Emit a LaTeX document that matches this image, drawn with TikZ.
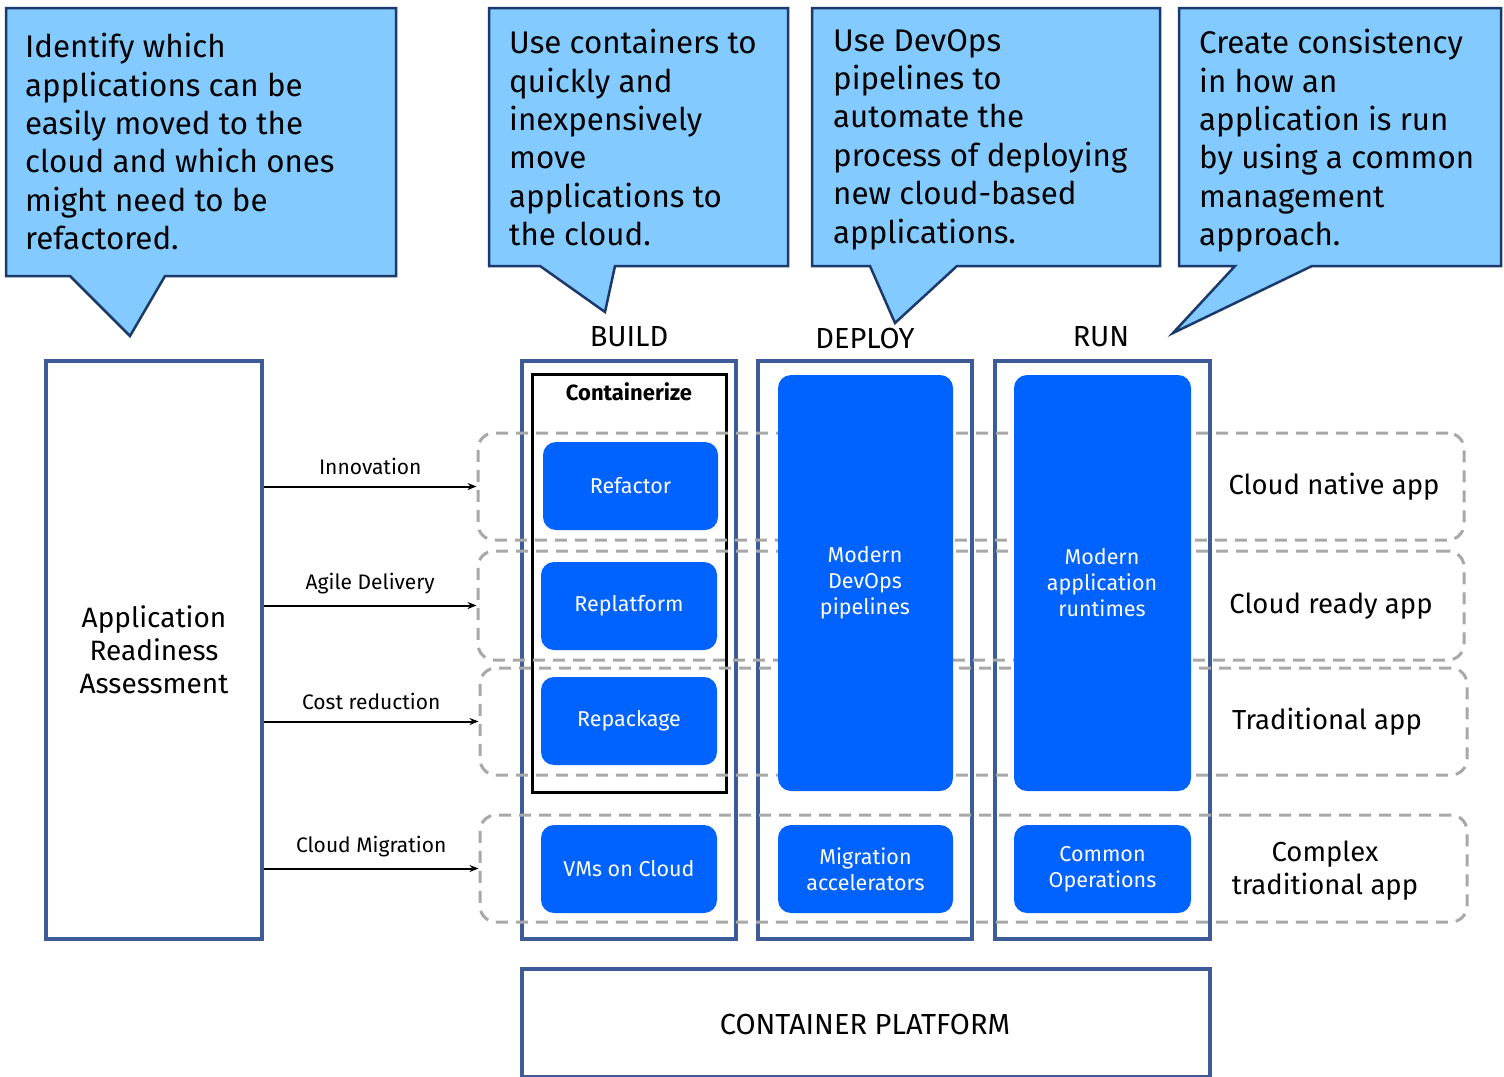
\documentclass[tikz,border=0pt]{standalone}
\usepackage{fontspec}
\setmainfont{Fira Sans}
\usetikzlibrary{arrows.meta,fit}

\definecolor{callfill}{HTML}{82CAFF}
\definecolor{calledge}{HTML}{1B3A6B}
\definecolor{frameblue}{HTML}{3D5C97}
\definecolor{ibmblue}{HTML}{0062FF}
\definecolor{dashgray}{HTML}{A8A8A8}

\begin{document}
\begin{tikzpicture}[x=1pt,y=-1pt,
  callout/.style={draw=calledge, line width=2.5pt, fill=callfill, line join=miter},
  calltext/.style={font=\fontsize{31.3}{38.4}\selectfont, align=left, anchor=north west, inner sep=0pt, text=black},
  frame/.style={draw=frameblue, line width=4pt, inner sep=0pt},
  bluebox/.style={fill=ibmblue, rounded corners=13pt, inner sep=0pt},
  boxtext/.style={text=white, font=\fontsize{21.5}{26}\selectfont, align=center, inner sep=0pt},
  rowbox/.style={draw=dashgray, line width=3pt, dash pattern=on 12pt off 8pt, rounded corners=16pt, inner sep=0pt},
  arr/.style={draw=black, line width=2pt, -{Stealth[length=9pt,width=7pt]}},
  lbl/.style={font=\fontsize{21}{24}\selectfont, inner sep=0pt, above=11pt},
  head/.style={font=\fontsize{29}{32}\selectfont, inner sep=0pt},
  rowlbl/.style={font=\fontsize{27.5}{33}\selectfont, align=center, inner sep=0pt}
]
\useasboundingbox (0,0) rectangle (1504,1076);

% speech bubbles
\draw[callout] (6,8) -- (396,8) -- (396,276) -- (165,276) -- (130,336) -- (70,276) -- (6,276) -- cycle;
\draw[callout] (489,8) -- (788,8) -- (788,266) -- (615,266) -- (605,312) -- (540,266) -- (489,266) -- cycle;
\draw[callout] (812,8) -- (1160,8) -- (1160,266) -- (957,266) -- (895,323) -- (870,266) -- (812,266) -- cycle;
\draw[callout] (1179,8) -- (1501,8) -- (1501,266) -- (1312,266) -- (1173,333) -- (1235,266) -- (1179,266) -- cycle;

\node[calltext] (t1) at (25,33) {Identify which\\applications can be\\easily moved to the\\cloud and which ones\\might need to be\\refactored.};
\node[calltext] (t2) at (509,29) {Use containers to\\quickly and\\inexpensively\\move\\applications to\\the cloud.};
\node[calltext] (t3) at (833,29) {Use DevOps\\pipelines to\\automate the\\process of deploying\\new cloud-based\\applications.};
\node[calltext] (t4) at (1199,29) {Create consistency\\in how an\\application is run\\by using a common\\management\\approach.};

% column headings
\node[head] (hbuild) at (629,337) {BUILD};
\node[head] (hdeploy) at (865,339) {DEPLOY};
\node[head] (hrun) at (1101,337) {RUN};

% assessment box
\node[frame, fit={(46,361) (262,939)}] (ara) {};
\node[font=\fontsize{28}{33}\selectfont, align=center, inner sep=0pt] (aratext) at (154,650) {Application\\Readiness\\Assessment};

% column frames
\node[frame, fit={(522,361) (736,939)}] (fbuild) {};
\node[frame, fit={(758,361) (972,939)}] (fdeploy) {};
\node[frame, fit={(995,361) (1210,939)}] (frun) {};

% containerize group
\node[draw=black, line width=3pt, inner sep=0pt, fit={(532,374) (726,792)}] (cont) {};
\node[font=\bfseries\fontsize{22}{26}\selectfont, inner sep=0pt] (ctitle) at (629,392) {Containerize};

% application rows
\node[rowbox, fit={(478,433) (1464,540)}] (r1) {};
\node[rowbox, fit={(478,551) (1464,660)}] (r2) {};
\node[rowbox, fit={(480,668) (1467,775)}] (r3) {};
\node[rowbox, fit={(480,815) (1467,922)}] (r4) {};

% blue activity boxes
\node[bluebox, fit={(543,442) (718,530)}] (refactor) {};
\node[boxtext] at (refactor) {Refactor};
\node[bluebox, fit={(541,562) (717,650)}] (replat) {};
\node[boxtext] at (replat) {Replatform};
\node[bluebox, fit={(541,677) (717,765)}] (repack) {};
\node[boxtext] at (repack) {Repackage};
\node[bluebox, fit={(541,825) (717,913)}] (vms) {};
\node[boxtext] at (vms) {VMs on Cloud};
\node[bluebox, fit={(778,375) (953,791)}] (devops) {};
\node[boxtext] at (865,583) {Modern\\DevOps\\pipelines};
\node[bluebox, fit={(1014,375) (1191,791)}] (runtimes) {};
\node[boxtext] at (1102,583) {Modern\\application\\runtimes};
\node[bluebox, fit={(778,825) (953,913)}] (migr) {};
\node[boxtext] at (migr) {Migration\\accelerators};
\node[bluebox, fit={(1014,825) (1191,913)}] (commops) {};
\node[boxtext] at (commops) {Common\\Operations};

% arrows from the assessment
\draw[arr] (ara.east |- r1.west) -- node[lbl] {Innovation} (r1.west);
\draw[arr] (ara.east |- r2.west) -- node[lbl] {Agile Delivery} (r2.west);
\draw[arr] (ara.east |- r3.west) -- node[lbl] {Cost reduction} (r3.west);
\draw[arr] (ara.east |- r4.west) -- node[lbl] {Cloud Migration} (r4.west);

% row labels
\node[rowlbl] (l1) at (1334,487) {Cloud native app};
\node[rowlbl] (l2) at (1331,606) {Cloud ready app};
\node[rowlbl] (l3) at (1327,722) {Traditional app};
\node[rowlbl] (l4) at (1325,871) {Complex\\traditional app};

% platform
\node[frame, fit={(522,969) (1210,1077)}] (platform) {};
\node[font=\fontsize{29}{32}\selectfont, inner sep=0pt] (ptext) at (865,1024) {CONTAINER PLATFORM};
\end{tikzpicture}
\end{document}
